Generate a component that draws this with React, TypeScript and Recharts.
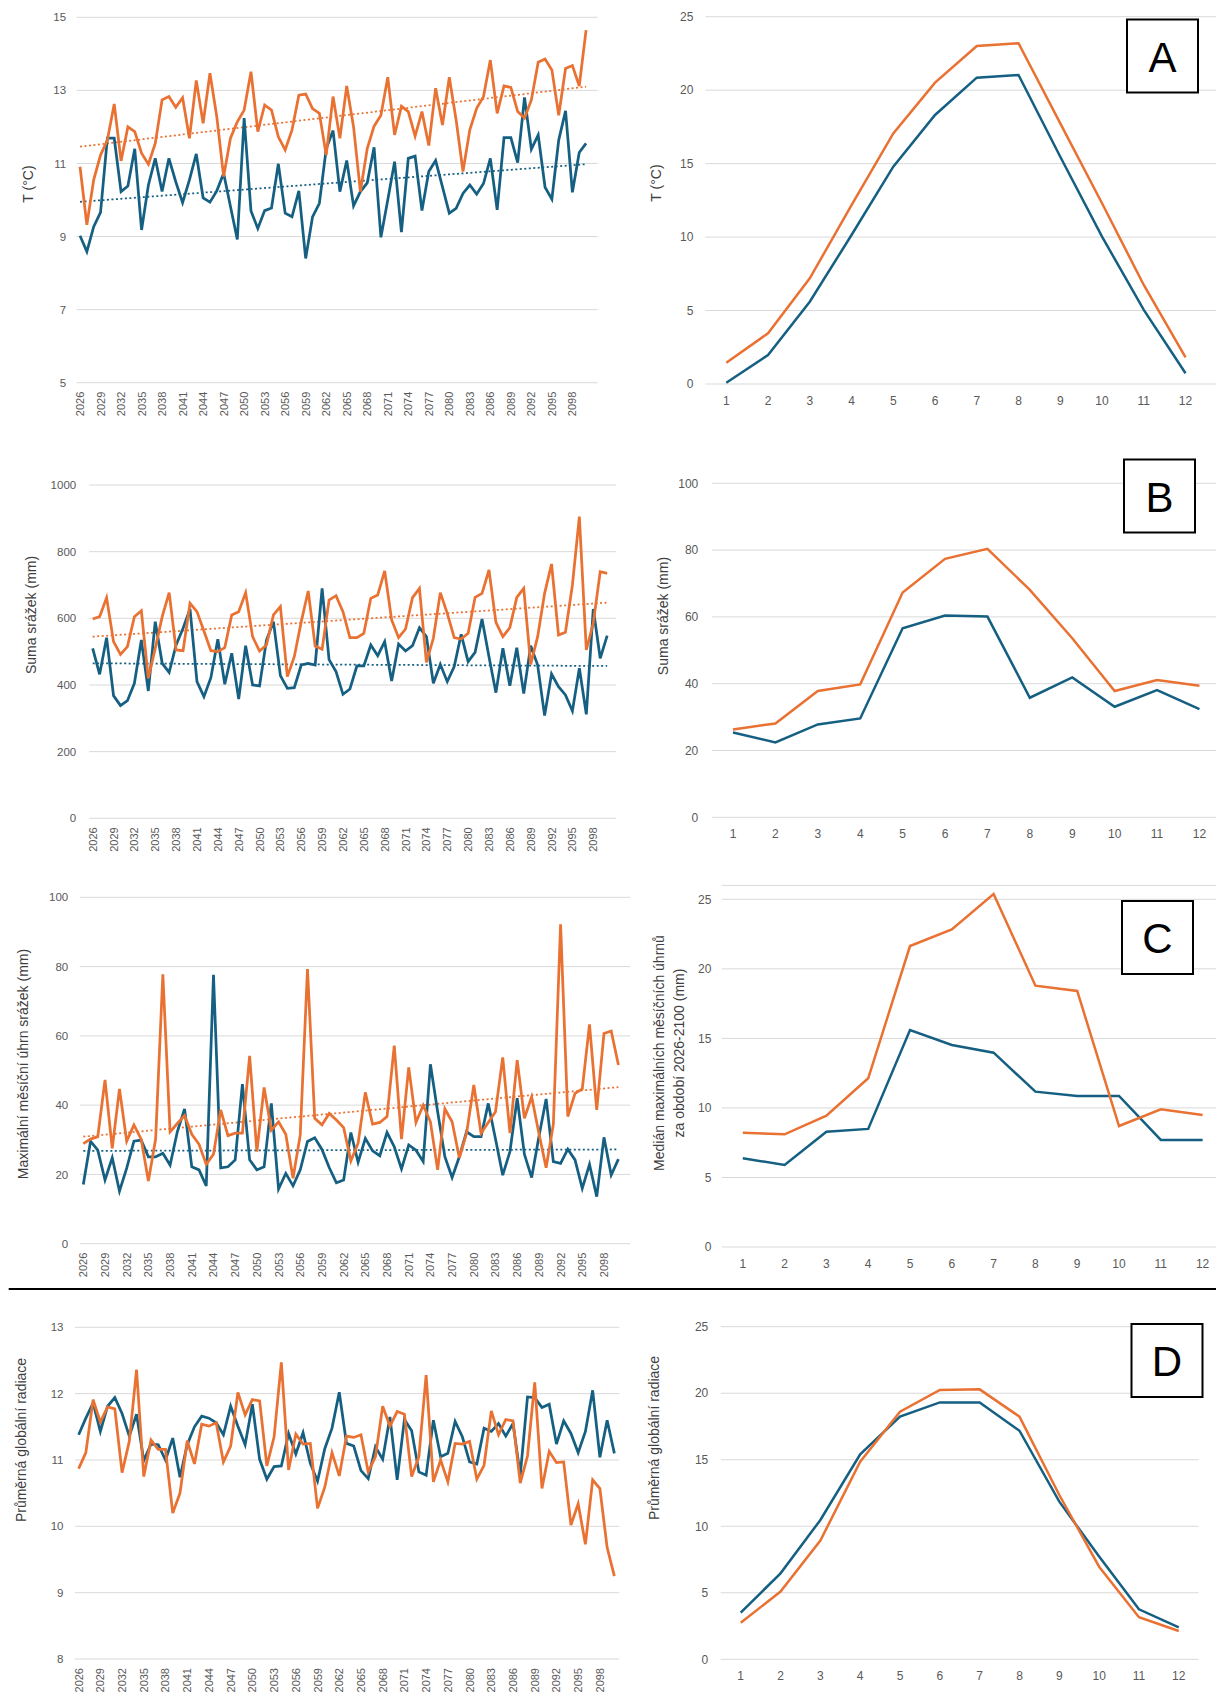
import { LineChart, Line, XAxis, YAxis, CartesianGrid, ReferenceLine } from 'recharts';

const ORANGE = '#E97132';
const BLUE = '#156082';
const GRID = '#D9D9D9';
const TICK = '#595959';
const TITLE = '#404040';
const FONT = '"Liberation Sans", Arial, sans-serif';

// ---- categories / ticks ----
const years = [
  2026, 2027, 2028, 2029, 2030, 2031, 2032, 2033, 2034, 2035, 2036, 2037, 2038, 2039, 2040,
  2041, 2042, 2043, 2044, 2045, 2046, 2047, 2048, 2049, 2050, 2051, 2052, 2053, 2054, 2055,
  2056, 2057, 2058, 2059, 2060, 2061, 2062, 2063, 2064, 2065, 2066, 2067, 2068, 2069, 2070,
  2071, 2072, 2073, 2074, 2075, 2076, 2077, 2078, 2079, 2080, 2081, 2082, 2083, 2084, 2085,
  2086, 2087, 2088, 2089, 2090, 2091, 2092, 2093, 2094, 2095, 2096, 2097, 2098, 2099, 2100,
];
const yearTicks = [
  2026, 2029, 2032, 2035, 2038, 2041, 2044, 2047, 2050, 2053, 2056, 2059, 2062, 2065, 2068,
  2071, 2074, 2077, 2080, 2083, 2086, 2089, 2092, 2095, 2098,
];
const trendYears = [2026, 2100];
const months = [1, 2, 3, 4, 5, 6, 7, 8, 9, 10, 11, 12];

// ---- A: temperature ----
const tempOrange = [
  10.91, 9.32, 10.55, 11.23, 11.64, 12.63, 11.07, 12.0, 11.87, 11.28,
  10.98, 11.55, 12.74, 12.83, 12.54, 12.8, 11.69, 13.27, 12.1, 13.47,
  12.28, 10.64, 11.69, 12.14, 12.46, 13.51, 11.87, 12.6, 12.46, 11.73,
  11.37, 11.92, 12.87, 12.9, 12.5, 12.37, 11.23, 12.83, 11.69, 13.12,
  12.0, 10.23, 11.41, 12.02, 12.32, 13.36, 11.78, 12.57, 12.42, 11.75,
  12.42, 11.49, 13.06, 12.05, 13.36, 12.19, 10.78, 11.92, 12.51, 12.83,
  13.83, 12.37, 13.12, 13.08, 12.42, 12.24, 12.74, 13.77, 13.86, 13.56,
  12.32, 13.6, 13.68, 13.12, 14.65,
];
const tempBlue = [
  9.02, 8.59, 9.27, 9.66, 11.69, 11.69, 10.23, 10.38, 11.4, 9.18,
  10.41, 11.14, 10.23, 11.14, 10.5, 9.93, 10.55, 11.26, 10.06, 9.94,
  10.25, 10.73, 9.82, 8.92, 12.24, 9.7, 9.22, 9.71, 9.78, 10.99,
  9.64, 9.54, 10.25, 8.4, 9.54, 9.91, 11.4, 11.9, 10.23, 11.08,
  9.84, 10.23, 10.47, 11.44, 8.98, 10.0, 11.05, 9.12, 11.14, 11.2,
  9.71, 10.78, 11.08, 10.36, 9.64, 9.77, 10.18, 10.41, 10.16, 10.45,
  11.14, 9.73, 11.71, 11.71, 11.02, 12.81, 11.39, 11.78, 10.35, 10.02,
  11.64, 12.44, 10.21, 11.3, 11.55,
];
const tempTrendOrange = [11.46, 13.1];
const tempTrendBlue = [9.95, 10.98];
const tempMonthOrange = [1.45, 3.45, 7.19, 12.18, 17.06, 20.51, 23.0, 23.19, 17.74, 12.3, 6.74, 1.81];
const tempMonthBlue = [0.09, 1.97, 5.6, 10.14, 14.79, 18.31, 20.85, 21.03, 15.47, 10.03, 5.04, 0.73];

// ---- B: precipitation sum ----
const rainOrange = [
  598, 605, 662, 530, 492, 515, 605, 623, 420, 510,
  605, 677, 505, 503, 645, 620, 562, 503, 500, 512,
  610, 620, 677, 545, 502, 520, 610, 635, 425, 485,
  590, 682, 517, 507, 655, 668, 620, 542, 542, 555,
  660, 670, 742, 595, 542, 568, 662, 690, 468, 540,
  677, 615, 542, 538, 555, 663, 675, 745, 588, 545,
  572, 663, 690, 462, 545, 675, 763, 550, 558, 700,
  905, 505, 585, 740, 735,
];
const rainBlue = [
  510, 432, 542, 368, 338, 353, 405, 535, 382, 590,
  465, 438, 520, 570, 628, 410, 365, 422, 537, 402,
  495, 358, 518, 400, 397, 535, 590, 428, 390, 392,
  460, 465, 460, 690, 476, 440, 372, 388, 457, 457,
  520, 488, 530, 412, 523, 502, 518, 572, 545, 405,
  462, 410, 455, 552, 470, 498, 598, 485, 377, 510,
  398, 512, 374, 518, 460, 308, 433, 395, 370, 322,
  450, 312, 628, 480, 548,
];
const rainTrendOrange = [545, 647];
const rainTrendBlue = [465, 457];
const rainMonthOrange = [26.3, 28.1, 37.8, 39.8, 67.3, 77.4, 80.4, 68.1, 53.6, 37.8, 41.1, 39.4];
const rainMonthBlue = [25.4, 22.4, 27.8, 29.6, 56.6, 60.4, 60.1, 35.8, 41.9, 33.1, 38.1, 32.4];

// ---- C: max monthly precipitation ----
const maxOrange = [
  28.9, 30.2, 30.9, 47.3, 27.5, 44.7, 29.6, 34.3, 30.2, 18.1,
  30.2, 77.8, 32.3, 34.7, 37.0, 31.6, 28.7, 22.9, 25.8, 38.6,
  31.2, 31.9, 31.9, 54.2, 26.6, 45.1, 32.8, 35.2, 31.6, 18.9,
  31.4, 79.3, 36.2, 34.3, 37.6, 35.7, 33.5, 23.9, 29.0, 43.7,
  34.5, 35.0, 36.7, 57.2, 30.2, 50.9, 35.0, 40.0, 35.2, 21.3,
  38.9, 35.2, 24.8, 31.9, 45.8, 31.9, 35.0, 38.1, 53.8, 31.9,
  53.0, 36.2, 42.4, 31.9, 21.9, 34.5, 92.2, 36.7, 43.4, 44.7,
  63.3, 38.6, 60.7, 61.4, 51.6,
];
const maxBlue = [
  17.1, 29.6, 27.0, 18.4, 24.8, 15.2, 21.8, 29.6, 29.9, 25.1,
  25.1, 26.1, 22.7, 32.3, 38.9, 22.2, 21.3, 16.7, 77.6, 21.9,
  22.2, 24.2, 46.1, 24.2, 21.3, 22.2, 40.5, 15.8, 20.3, 16.7,
  21.3, 29.5, 30.6, 27.2, 22.0, 17.6, 18.4, 32.1, 23.5, 30.4,
  26.8, 25.4, 32.1, 28.0, 21.6, 28.5, 27.0, 23.7, 51.8, 38.1,
  25.1, 19.1, 25.1, 32.3, 30.9, 30.9, 40.5, 30.2, 19.8, 26.6,
  42.0, 25.8, 19.1, 30.9, 41.8, 23.7, 23.2, 27.3, 24.2, 16.0,
  22.9, 13.6, 30.7, 19.8, 24.4,
];
const maxTrendOrange = [30.9, 45.2];
const maxTrendBlue = [26.8, 27.2];
const maxMonthOrange = [8.22, 8.1, 9.44, 12.13, 21.64, 22.84, 25.38, 18.79, 18.41, 8.7, 9.9, 9.49];
const maxMonthBlue = [6.38, 5.9, 8.29, 8.49, 15.6, 14.53, 13.97, 11.17, 10.86, 10.86, 7.7, 7.7];

// ---- D: global radiation ----
const radOrange = [
  10.87, 11.11, 11.91, 11.57, 11.8, 11.77, 10.81, 11.28, 12.36, 10.75,
  11.3, 11.16, 11.16, 10.2, 10.5, 11.29, 10.94, 11.54, 11.51, 11.56,
  10.97, 11.21, 12.02, 11.68, 11.91, 11.89, 10.91, 11.35, 12.47, 10.85,
  11.39, 11.24, 11.25, 10.27, 10.59, 11.11, 10.76, 11.36, 11.34, 11.38,
  10.82, 11.05, 11.81, 11.51, 11.73, 11.69, 10.75, 11.05, 12.28, 10.67,
  11.0, 10.67, 11.25, 11.24, 11.28, 10.71, 10.92, 11.74, 11.38, 11.61,
  11.59, 10.65, 11.06, 12.17, 10.57, 11.13, 10.96, 10.97, 10.02, 10.34,
  9.73, 10.7, 10.57, 9.68, 9.25,
];
const radBlue = [
  11.38, 11.63, 11.86, 11.43, 11.81, 11.94, 11.7, 11.36, 11.69, 10.99,
  11.24, 11.23, 11.0, 11.33, 10.74, 11.23, 11.5, 11.66, 11.63, 11.56,
  11.38, 11.81, 11.51, 11.23, 11.84, 11.01, 10.71, 10.9, 10.91, 11.4,
  11.09, 11.41, 10.95, 10.68, 11.17, 11.48, 12.02, 11.25, 11.21, 10.84,
  10.72, 11.2, 11.01, 11.65, 10.7, 11.61, 11.44, 10.82, 10.77, 11.6,
  11.05, 11.1, 11.58, 11.35, 10.97, 10.94, 11.48, 11.43, 11.55, 11.36,
  11.55, 10.77, 11.95, 11.94, 11.79, 11.84, 11.24, 11.59, 11.4, 11.11,
  11.43, 12.05, 11.04, 11.6, 11.1,
];
const radMonthOrange = [2.75, 5.09, 8.92, 14.86, 18.61, 20.24, 20.29, 18.24, 12.35, 6.96, 3.16, 2.13];
const radMonthBlue = [3.51, 6.46, 10.47, 15.41, 18.24, 19.31, 19.31, 17.18, 11.85, 7.72, 3.76, 2.4];

const rows = (xs: number[], o: number[], b: number[]) => xs.map((x, i) => ({ x, o: o[i], b: b[i] }));

function YearTick(props: any) {
  const { x, y, payload } = props;
  return (
    <text
      transform={`translate(${x},${y + 9}) rotate(-90)`}
      textAnchor="end"
      dominantBaseline="central"
      fontSize={11}
      fill={TICK}
      fontFamily={FONT}
    >
      {payload.value}
    </text>
  );
}

type PanelProps = {
  data: { x: number; o: number; b: number }[];
  box: number[]; // left, top, width, height
  plot: number[]; // left, top, right, bottom
  xDomain: number[];
  xTicks: number[];
  yDomain: number[];
  yTicks: number[];
  yGap: number;
  years?: boolean;
  yFont: number;
  lineWidth: number;
  trendO?: number[];
  trendB?: number[];
};

function Panel({ data, box, plot, xDomain, xTicks, yDomain, yTicks, yGap, years: isYears, yFont, lineWidth, trendO, trendB }: PanelProps) {
  const [bl, bt, bw, bh] = box;
  const [pl, pt, pr, pb] = plot;
  return (
    <div style={{ position: 'absolute', left: bl, top: bt, width: bw, height: bh }}>
      <LineChart
        width={bw}
        height={bh}
        data={data}
        margin={{ top: pt - bt, right: bl + bw - pr, bottom: 0, left: 0 }}
      >
        <CartesianGrid vertical={false} stroke={GRID} strokeWidth={1} />
        <XAxis
          dataKey="x"
          type="number"
          domain={xDomain}
          ticks={xTicks}
          interval={0}
          axisLine={false}
          tickLine={false}
          tickSize={0}
          tickMargin={isYears ? 0 : 12}
          height={bt + bh - pb}
          tick={isYears ? <YearTick /> : { fontSize: 12, fill: TICK, fontFamily: FONT }}
        />
        <YAxis
          type="number"
          domain={yDomain}
          ticks={yTicks}
          interval={0}
          width={pl - bl}
          axisLine={false}
          tickLine={false}
          tickSize={0}
          tickMargin={yGap}
          tick={{ fontSize: yFont, fill: TICK, fontFamily: FONT }}
        />
        {trendO && (
          <ReferenceLine
            segment={[{ x: trendYears[0], y: trendO[0] }, { x: trendYears[1], y: trendO[1] }]}
            stroke={ORANGE}
            strokeWidth={1.75}
            strokeDasharray="2 2.5"
          />
        )}
        {trendB && (
          <ReferenceLine
            segment={[{ x: trendYears[0], y: trendB[0] }, { x: trendYears[1], y: trendB[1] }]}
            stroke={BLUE}
            strokeWidth={1.75}
            strokeDasharray="2 2.5"
          />
        )}
        <Line type="linear" dataKey="b" stroke={BLUE} strokeWidth={lineWidth} dot={false} isAnimationActive={false} />
        <Line type="linear" dataKey="o" stroke={ORANGE} strokeWidth={lineWidth} dot={false} isAnimationActive={false} />
      </LineChart>
    </div>
  );
}

function VTitle({ x, y, text }: { x: number; y: number; text: string }) {
  return (
    <text
      x={x}
      y={y}
      transform={`rotate(-90 ${x} ${y})`}
      textAnchor="middle"
      dominantBaseline="central"
      fontSize={14}
      fill={TITLE}
      fontFamily={FONT}
    >
      {text}
    </text>
  );
}

function Badge({ x, y, letter }: { x: number; y: number; letter: string }) {
  return (
    <g>
      <rect x={x} y={y} width={71} height={73} fill="#fff" stroke="#000" strokeWidth={2} />
      <text
        x={x + 35.5}
        y={y + 37.5}
        textAnchor="middle"
        dominantBaseline="central"
        fontSize={42}
        fill="#000"
        fontFamily={FONT}
      >
        {letter}
      </text>
    </g>
  );
}

const t5 = [0, 5, 10, 15, 20, 25];

export default function App() {
  return (
    <div style={{ position: 'absolute', left: 0, top: 0, width: 1216, height: 1702, background: '#fff', fontFamily: FONT, overflow: 'hidden' }}>
      {/* A */}
      <Panel
        data={rows(years, tempOrange, tempBlue)}
        box={[0, 0, 600, 430]}
        plot={[76.6, 17.3, 597.7, 382.7]}
        xDomain={[2025.5, 2101.7]}
        xTicks={yearTicks}
        yDomain={[5, 15]}
        yTicks={[5, 7, 9, 11, 13, 15]}
        yGap={10.5}
        years
        yFont={11.5}
        lineWidth={2.75}
        trendO={tempTrendOrange}
        trendB={tempTrendBlue}
      />
      <Panel
        data={rows(months, tempMonthOrange, tempMonthBlue)}
        box={[630, 0, 586, 430]}
        plot={[705.4, 16.7, 1216, 384]}
        xDomain={[0.5, 12.73]}
        xTicks={months}
        yDomain={[0, 25]}
        yTicks={t5}
        yGap={12}
        yFont={12}
        lineWidth={2.5}
      />
      {/* B */}
      <Panel
        data={rows(years, rainOrange, rainBlue)}
        box={[0, 440, 620, 430]}
        plot={[89.2, 485, 616, 818.3]}
        xDomain={[2025.5, 2101.27]}
        xTicks={yearTicks}
        yDomain={[0, 1000]}
        yTicks={[0, 200, 400, 600, 800, 1000]}
        yGap={13}
        years
        yFont={11.5}
        lineWidth={2.75}
        trendO={rainTrendOrange}
        trendB={rainTrendBlue}
      />
      <Panel
        data={rows(months, rainMonthOrange, rainMonthBlue)}
        box={[630, 440, 586, 430]}
        plot={[711.8, 483.3, 1216, 817.3]}
        xDomain={[0.5, 12.39]}
        xTicks={months}
        yDomain={[0, 100]}
        yTicks={[0, 20, 40, 60, 80, 100]}
        yGap={13.5}
        yFont={12}
        lineWidth={2.5}
      />
      {/* C */}
      <Panel
        data={rows(years, maxOrange, maxBlue)}
        box={[0, 870, 632, 415]}
        plot={[79.7, 897.3, 630, 1243.7]}
        xDomain={[2025.5, 2101.6]}
        xTicks={yearTicks}
        yDomain={[0, 100]}
        yTicks={[0, 20, 40, 60, 80, 100]}
        yGap={11.5}
        years
        yFont={11.5}
        lineWidth={2.75}
        trendO={maxTrendOrange}
        trendB={maxTrendBlue}
      />
      <Panel
        data={rows(months, maxMonthOrange, maxMonthBlue)}
        box={[640, 870, 576, 415]}
        plot={[721.9, 885.4, 1216, 1247]}
        xDomain={[0.5, 12.32]}
        xTicks={months}
        yDomain={[0, 26]}
        yTicks={t5}
        yGap={10.5}
        yFont={12}
        lineWidth={2.5}
      />
      {/* D */}
      <Panel
        data={rows(years, radOrange, radBlue)}
        box={[0, 1295, 622, 407]}
        plot={[75, 1327.3, 619.3, 1659]}
        xDomain={[2025.5, 2100.68]}
        xTicks={yearTicks}
        yDomain={[8, 13]}
        yTicks={[8, 9, 10, 11, 12, 13]}
        yGap={11.5}
        years
        yFont={11.5}
        lineWidth={2.75}
      />
      <Panel
        data={rows(months, radMonthOrange, radMonthBlue)}
        box={[630, 1300, 586, 400]}
        plot={[720.8, 1326.7, 1198.7, 1659.3]}
        xDomain={[0.5, 12.5]}
        xTicks={months}
        yDomain={[0, 25]}
        yTicks={t5}
        yGap={12.5}
        yFont={12}
        lineWidth={2.5}
      />

      <svg width={1216} height={1702} style={{ position: 'absolute', left: 0, top: 0, pointerEvents: 'none' }}>
        <VTitle x={28} y={184} text="T (°C)" />
        <VTitle x={656} y={183} text="T (°C)" />
        <VTitle x={31} y={615} text="Suma srážek (mm)" />
        <VTitle x={663} y={616} text="Suma srážek (mm)" />
        <VTitle x={23} y={1064} text="Maximální měsíční úhrn srážek (mm)" />
        <VTitle x={659} y={1053} text="Medián maximálních měsíčních úhrnů" />
        <VTitle x={679} y={1053} text="za období 2026-2100 (mm)" />
        <VTitle x={21} y={1440} text="Průměrná globální radiace" />
        <VTitle x={654} y={1438} text="Průměrná globální radiace" />

        <Badge x={1127} y={19.5} letter="A" />
        <Badge x={1124} y={459.5} letter="B" />
        <Badge x={1122} y={901} letter="C" />
        <Badge x={1131.5} y={1324} letter="D" />

        <line x1={8.7} y1={1289} x2={1216} y2={1289} stroke="#000" strokeWidth={2} />
      </svg>
    </div>
  );
}
